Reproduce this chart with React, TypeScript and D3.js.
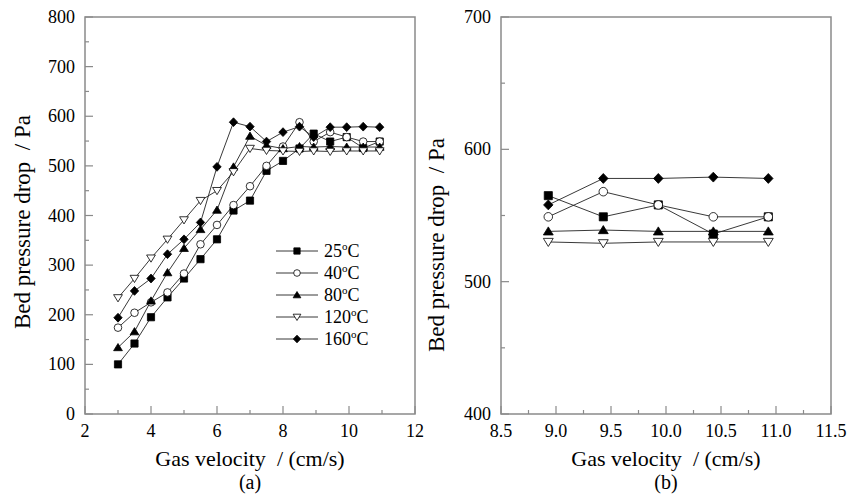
import React from "react";
import * as d3 from "d3";

// gas velocity (cm/s) for panel (a)
const velocityA = [3, 3.5, 4, 4.5, 5, 5.5, 6, 6.5, 7, 7.5, 8, 8.5, 8.93, 9.43, 9.93, 10.43, 10.93];
// panel (b) only shows the plateau part
const velocityB = [8.93, 9.43, 9.93, 10.43, 10.93];

const seriesNames = ["25", "40", "80", "120", "160"];
const seriesMarkers = ["square", "circle", "triangle", "triangleDown", "diamond"];

const drop25 = [100, 142, 195, 235, 273, 312, 352, 410, 430, 490, 510, 535, 565, 549, 558, 536, 549];
const drop40 = [174, 204, 225, 245, 283, 342, 381, 421, 459, 500, 539, 588, 549, 568, 558, 549, 549];
const drop80 = [134, 166, 228, 285, 334, 372, 411, 498, 560, 541, 535, 539, 538, 539, 538, 538, 538];
const drop120 = [234, 273, 314, 352, 391, 430, 450, 488, 535, 531, 530, 529, 530, 529, 530, 530, 530];
const drop160 = [194, 248, 273, 322, 352, 386, 498, 588, 579, 549, 568, 579, 558, 578, 578, 579, 578];
const seriesA = [drop25, drop40, drop80, drop120, drop160];

const drop25B = [565, 549, 558, 536, 549];
const drop40B = [549, 568, 558, 549, 549];
const drop80B = [538, 539, 538, 538, 538];
const drop120B = [530, 529, 530, 530, 530];
const drop160B = [558, 578, 578, 579, 578];
const seriesB = [drop25B, drop40B, drop80B, drop120B, drop160B];

const ticksXA = [2, 4, 6, 8, 10, 12];
const ticksYA = [0, 100, 200, 300, 400, 500, 600, 700, 800];
const ticksXB = [8.5, 9.0, 9.5, 10.0, 10.5, 11.0, 11.5];
const ticksYB = [400, 500, 600, 700];

const FONT = '"Times New Roman", "Liberation Serif", Times, serif';
const AXIS = "#8a8a8a";

function markerPath(kind: string, s: number) {
  const h = s / 2;
  if (kind === "square") return `M${-h * 0.9},${-h * 0.9}H${h * 0.9}V${h * 0.9}H${-h * 0.9}Z`;
  if (kind === "triangle") return `M0,${-h}L${h * 1.1},${h * 0.8}L${-h * 1.1},${h * 0.8}Z`;
  if (kind === "triangleDown") return `M0,${h}L${h * 1.1},${-h * 0.8}L${-h * 1.1},${-h * 0.8}Z`;
  if (kind === "diamond") return `M0,${-h * 1.1}L${h * 1.05},0L0,${h * 1.1}L${-h * 1.05},0Z`;
  return d3.arc()({ innerRadius: 0, outerRadius: h * 0.95, startAngle: 0, endAngle: 2 * Math.PI }) as string;
}

function Marker({ kind, x, y, s }: { kind: string; x: number; y: number; s: number }) {
  const open = kind === "circle" || kind === "triangleDown";
  return (
    <path
      d={markerPath(kind, s)}
      transform={`translate(${x},${y})`}
      fill={open ? "#fff" : "#000"}
      stroke="#000"
      strokeWidth={0.8}
    />
  );
}

type PanelProps = {
  left: number;
  right: number;
  xDomain: [number, number];
  yDomain: [number, number];
  xTicks: number[];
  yTicks: number[];
  xMinor: number;
  yMinor: number;
  fmtX: (v: number) => string;
  xs: number[];
  series: number[][];
  size: number;
  label: string;
  yTitleX: number;
  yTitleY: number;
};

const top = 17;
const bottom = 414;

function Panel(p: PanelProps) {
  const x = d3.scaleLinear().domain(p.xDomain).range([p.left, p.right]);
  const y = d3.scaleLinear().domain(p.yDomain).range([bottom, top]);
  const line = d3
    .line<[number, number]>()
    .x((d) => x(d[0]))
    .y((d) => y(d[1]));
  const xMinorTicks = d3.range(p.xDomain[0] + p.xMinor, p.xDomain[1], p.xMinor * 2);
  const yMinorTicks = d3.range(p.yDomain[0] + p.yMinor, p.yDomain[1], p.yMinor * 2);
  const cx = (p.left + p.right) / 2;
  return (
    <g style={{ fontFamily: FONT }}>
      <rect x={p.left} y={top} width={p.right - p.left} height={bottom - top} fill="none" stroke={AXIS} strokeWidth={1.5} />
      {p.xTicks.map((t) => (
        <g key={"xt" + t}>
          <line x1={x(t)} x2={x(t)} y1={bottom} y2={bottom - 8} stroke={AXIS} strokeWidth={1.2} />
          <text x={x(t)} y={bottom + 23} textAnchor="middle" fontSize={18}>
            {p.fmtX(t)}
          </text>
        </g>
      ))}
      {xMinorTicks.map((t) => (
        <line key={"xm" + t} x1={x(t)} x2={x(t)} y1={bottom} y2={bottom - 4} stroke={AXIS} strokeWidth={1.2} />
      ))}
      {p.yTicks.map((t) => (
        <g key={"yt" + t}>
          <line x1={p.left} x2={p.left + 8} y1={y(t)} y2={y(t)} stroke={AXIS} strokeWidth={1.2} />
          <text x={p.left - 10} y={y(t) + 6} textAnchor="end" fontSize={18}>
            {t}
          </text>
        </g>
      ))}
      {yMinorTicks.map((t) => (
        <line key={"ym" + t} x1={p.left} x2={p.left + 4} y1={y(t)} y2={y(t)} stroke={AXIS} strokeWidth={1.2} />
      ))}
      {p.series.map((vals, i) => (
        <path
          key={"l" + i}
          d={line(vals.map((v, j) => [p.xs[j], v] as [number, number])) as string}
          fill="none"
          stroke="#222"
          strokeWidth={0.9}
        />
      ))}
      {p.series.map((vals, i) =>
        vals.map((v, j) => <Marker key={`m${i}-${j}`} kind={seriesMarkers[i]} x={x(p.xs[j])} y={y(v)} s={p.size} />)
      )}
      <text x={cx} y={466} textAnchor="middle" fontSize={22}>
        Gas velocity {"\u00a0"}/ (cm/s)
      </text>
      <text x={cx} y={489} textAnchor="middle" fontSize={20}>
        {p.label}
      </text>
      <text
        transform={`translate(${p.yTitleX},${p.yTitleY}) rotate(-90)`}
        textAnchor="middle"
        fontSize={23}
      >
        Bed pressure drop {"\u00a0"}/ Pa
      </text>
    </g>
  );
}

function Legend({ x0, y0 }: { x0: number; y0: number }) {
  const rowH = 22;
  return (
    <g style={{ fontFamily: FONT }}>
      {seriesNames.map((n, i) => (
        <g key={n} transform={`translate(${x0},${y0 + i * rowH})`}>
          <line x1={0} x2={42} y1={0} y2={0} stroke="#222" strokeWidth={0.9} />
          <Marker kind={seriesMarkers[i]} x={21} y={0} s={7} />
          <text x={48} y={6} fontSize={18}>
            {n}
            <tspan fontSize={11} dy={-7}>o</tspan>
            <tspan dy={7}>C</tspan>
          </text>
        </g>
      ))}
    </g>
  );
}

export default function App() {
  return (
    <svg width={848} height={495} style={{ position: "absolute", left: 0, top: 0, background: "#fff" }}>
      <Panel
        left={85}
        right={415}
        xDomain={[2, 12]}
        yDomain={[0, 800]}
        xTicks={ticksXA}
        yTicks={ticksYA}
        xMinor={1}
        yMinor={50}
        fmtX={(v) => String(v)}
        xs={velocityA}
        series={seriesA}
        size={8}
        label="(a)"
        yTitleX={30}
        yTitleY={222}
      />
      <Legend x0={276} y0={251} />
      <Panel
        left={501}
        right={831}
        xDomain={[8.5, 11.5]}
        yDomain={[400, 700]}
        xTicks={ticksXB}
        yTicks={ticksYB}
        xMinor={0.25}
        yMinor={50}
        fmtX={(v) => v.toFixed(1)}
        xs={velocityB}
        series={seriesB}
        size={9}
        label="(b)"
        yTitleX={444}
        yTitleY={245}
      />
    </svg>
  );
}
